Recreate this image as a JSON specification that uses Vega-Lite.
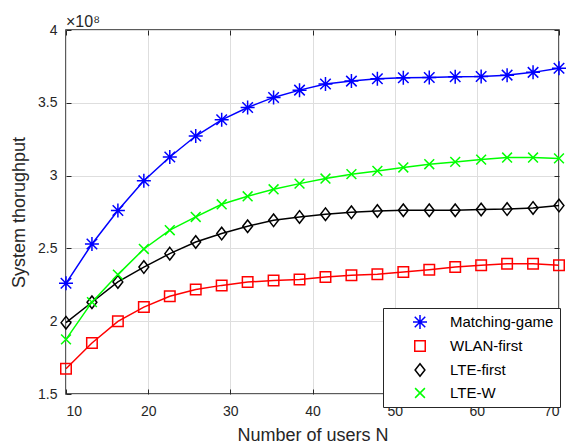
{
  "$schema": "https://vega.github.io/schema/vega-lite/v6.json",
  "width": 493,
  "height": 364,
  "autosize": {"type": "none"},
  "padding": {"left": 66, "top": 30, "right": 10, "bottom": 51},
  "background": "white",
  "config": {
    "font": "Liberation Sans",
    "view": {"stroke": "#262626", "strokeWidth": 1.5},
    "title": {"fontSize": 16, "fontWeight": "normal", "font": "Liberation Sans", "color": "#262626"},
    "axis": {"labelFont": "Liberation Sans", "titleFont": "Liberation Sans", "labelColor": "#262626", "titleColor": "#262626", "tickColor": "#262626", "labelFontSize": 14, "titleFontSize": 18, "titleFontWeight": "normal", "domain": false, "gridColor": "#dedede", "gridWidth": 1}
  },
  "title": {"text": "×10⁸", "anchor": "start", "frame": "group", "fontSize": 16, "fontWeight": "normal", "font": "Liberation Sans", "color": "#262626", "offset": -20, "baseline": "alphabetic"},
  "data": {"values": [
    {"series": "Matching-game", "N": 10, "throughput": 2.26},
    {"series": "Matching-game", "N": 13.158, "throughput": 2.53},
    {"series": "Matching-game", "N": 16.316, "throughput": 2.76},
    {"series": "Matching-game", "N": 19.474, "throughput": 2.965},
    {"series": "Matching-game", "N": 22.632, "throughput": 3.128},
    {"series": "Matching-game", "N": 25.789, "throughput": 3.272},
    {"series": "Matching-game", "N": 28.947, "throughput": 3.383},
    {"series": "Matching-game", "N": 32.105, "throughput": 3.468},
    {"series": "Matching-game", "N": 35.263, "throughput": 3.537},
    {"series": "Matching-game", "N": 38.421, "throughput": 3.587},
    {"series": "Matching-game", "N": 41.579, "throughput": 3.629},
    {"series": "Matching-game", "N": 44.737, "throughput": 3.649},
    {"series": "Matching-game", "N": 47.895, "throughput": 3.665},
    {"series": "Matching-game", "N": 51.053, "throughput": 3.672},
    {"series": "Matching-game", "N": 54.211, "throughput": 3.674},
    {"series": "Matching-game", "N": 57.368, "throughput": 3.679},
    {"series": "Matching-game", "N": 60.526, "throughput": 3.681},
    {"series": "Matching-game", "N": 63.684, "throughput": 3.69},
    {"series": "Matching-game", "N": 66.842, "throughput": 3.709},
    {"series": "Matching-game", "N": 70, "throughput": 3.737},
    {"series": "WLAN-first", "N": 10, "throughput": 1.673},
    {"series": "WLAN-first", "N": 13.158, "throughput": 1.85},
    {"series": "WLAN-first", "N": 16.316, "throughput": 1.999},
    {"series": "WLAN-first", "N": 19.474, "throughput": 2.097},
    {"series": "WLAN-first", "N": 22.632, "throughput": 2.171},
    {"series": "WLAN-first", "N": 25.789, "throughput": 2.217},
    {"series": "WLAN-first", "N": 28.947, "throughput": 2.246},
    {"series": "WLAN-first", "N": 32.105, "throughput": 2.269},
    {"series": "WLAN-first", "N": 35.263, "throughput": 2.28},
    {"series": "WLAN-first", "N": 38.421, "throughput": 2.287},
    {"series": "WLAN-first", "N": 41.579, "throughput": 2.303},
    {"series": "WLAN-first", "N": 44.737, "throughput": 2.315},
    {"series": "WLAN-first", "N": 47.895, "throughput": 2.322},
    {"series": "WLAN-first", "N": 51.053, "throughput": 2.338},
    {"series": "WLAN-first", "N": 54.211, "throughput": 2.354},
    {"series": "WLAN-first", "N": 57.368, "throughput": 2.372},
    {"series": "WLAN-first", "N": 60.526, "throughput": 2.384},
    {"series": "WLAN-first", "N": 63.684, "throughput": 2.395},
    {"series": "WLAN-first", "N": 66.842, "throughput": 2.395},
    {"series": "WLAN-first", "N": 70, "throughput": 2.384},
    {"series": "LTE-first", "N": 10, "throughput": 1.99},
    {"series": "LTE-first", "N": 13.158, "throughput": 2.13},
    {"series": "LTE-first", "N": 16.316, "throughput": 2.27},
    {"series": "LTE-first", "N": 19.474, "throughput": 2.372},
    {"series": "LTE-first", "N": 22.632, "throughput": 2.464},
    {"series": "LTE-first", "N": 25.789, "throughput": 2.544},
    {"series": "LTE-first", "N": 28.947, "throughput": 2.602},
    {"series": "LTE-first", "N": 32.105, "throughput": 2.652},
    {"series": "LTE-first", "N": 35.263, "throughput": 2.693},
    {"series": "LTE-first", "N": 38.421, "throughput": 2.716},
    {"series": "LTE-first", "N": 41.579, "throughput": 2.735},
    {"series": "LTE-first", "N": 44.737, "throughput": 2.748},
    {"series": "LTE-first", "N": 47.895, "throughput": 2.757},
    {"series": "LTE-first", "N": 51.053, "throughput": 2.762},
    {"series": "LTE-first", "N": 54.211, "throughput": 2.762},
    {"series": "LTE-first", "N": 57.368, "throughput": 2.762},
    {"series": "LTE-first", "N": 60.526, "throughput": 2.767},
    {"series": "LTE-first", "N": 63.684, "throughput": 2.77},
    {"series": "LTE-first", "N": 66.842, "throughput": 2.778},
    {"series": "LTE-first", "N": 70, "throughput": 2.794},
    {"series": "LTE-W", "N": 10, "throughput": 1.875},
    {"series": "LTE-W", "N": 13.158, "throughput": 2.131},
    {"series": "LTE-W", "N": 16.316, "throughput": 2.32},
    {"series": "LTE-W", "N": 19.474, "throughput": 2.496},
    {"series": "LTE-W", "N": 22.632, "throughput": 2.625},
    {"series": "LTE-W", "N": 25.789, "throughput": 2.716},
    {"series": "LTE-W", "N": 28.947, "throughput": 2.803},
    {"series": "LTE-W", "N": 32.105, "throughput": 2.858},
    {"series": "LTE-W", "N": 35.263, "throughput": 2.906},
    {"series": "LTE-W", "N": 38.421, "throughput": 2.945},
    {"series": "LTE-W", "N": 41.579, "throughput": 2.98},
    {"series": "LTE-W", "N": 44.737, "throughput": 3.01},
    {"series": "LTE-W", "N": 47.895, "throughput": 3.032},
    {"series": "LTE-W", "N": 51.053, "throughput": 3.056},
    {"series": "LTE-W", "N": 54.211, "throughput": 3.078},
    {"series": "LTE-W", "N": 57.368, "throughput": 3.094},
    {"series": "LTE-W", "N": 60.526, "throughput": 3.11},
    {"series": "LTE-W", "N": 63.684, "throughput": 3.124},
    {"series": "LTE-W", "N": 66.842, "throughput": 3.124},
    {"series": "LTE-W", "N": 70, "throughput": 3.118}
  ]},
  "resolve": {"axis": {"x": "independent", "y": "independent"}},
  "layer": [
    {
      "mark": {"type": "line", "strokeWidth": 1.5},
      "encoding": {
        "x": {"field": "N", "type": "quantitative", "scale": {"domain": [10, 70], "nice": false, "zero": false},
              "axis": {"orient": "top", "labels": false, "grid": false, "tickSize": -5, "title": null, "values": [10, 20, 30, 40, 50, 60, 70]}},
        "y": {"field": "throughput", "type": "quantitative", "scale": {"domain": [1.5, 4], "nice": false, "zero": false},
              "axis": {"orient": "right", "labels": false, "grid": false, "tickSize": -5, "title": null, "values": [1.5, 2, 2.5, 3, 3.5, 4]}},
        "color": {"field": "series", "type": "nominal",
                  "scale": {"domain": ["Matching-game", "WLAN-first", "LTE-first", "LTE-W"], "range": ["#0000ff", "#ff0000", "#000000", "#00ff00"]}},
        "detail": {"field": "series"}
      }
    },
    {
      "mark": {"type": "point", "filled": false, "strokeWidth": 1.5, "size": 196, "opacity": 1},
      "encoding": {
        "x": {"field": "N", "type": "quantitative",
              "axis": {"orient": "bottom", "grid": true, "tickSize": -5, "labelPadding": 15, "title": "Number of users N", "titlePadding": 8, "values": [10, 20, 30, 40, 50, 60, 70]}},
        "y": {"field": "throughput", "type": "quantitative",
              "axis": {"orient": "left", "grid": true, "tickSize": -5, "labelPadding": 14, "format": "~g", "title": "System thorughput", "titlePadding": 9, "values": [1.5, 2, 2.5, 3, 3.5, 4]}},
        "color": {"field": "series", "type": "nominal",
                  "legend": {"orient": "none", "legendX": 317, "legendY": 278, "title": null, "padding": 6, "strokeColor": "#262626", "fillColor": "white", "labelFontSize": 15, "labelColor": "#000000", "labelFont": "Liberation Sans", "symbolSize": 196, "symbolOffset": 23, "labelOffset": 22, "rowPadding": 5, "symbolStrokeWidth": 1.5, "labelLimit": 300}},
        "shape": {"field": "series", "type": "nominal",
                  "scale": {"domain": ["Matching-game", "WLAN-first", "LTE-first", "LTE-W"],
                            "range": ["M0,-1L0,1M-1,0L1,0M-0.75,-0.75L0.75,0.75M-0.75,0.75L0.75,-0.75", "M-0.75,-0.75L0.75,-0.75L0.75,0.75L-0.75,0.75Z", "M0,-0.9L0.7,0L0,0.9L-0.7,0Z", "M-0.7,-0.7L0.7,0.7M-0.7,0.7L0.7,-0.7"]},
                  "legend": {"orient": "none", "legendX": 317, "legendY": 278, "title": null, "padding": 6, "strokeColor": "#262626", "fillColor": "white", "labelFontSize": 15, "labelColor": "#000000", "labelFont": "Liberation Sans", "symbolSize": 196, "symbolOffset": 23, "labelOffset": 22, "rowPadding": 5, "symbolStrokeWidth": 1.5, "labelLimit": 300}}
      }
    }
  ]
}
